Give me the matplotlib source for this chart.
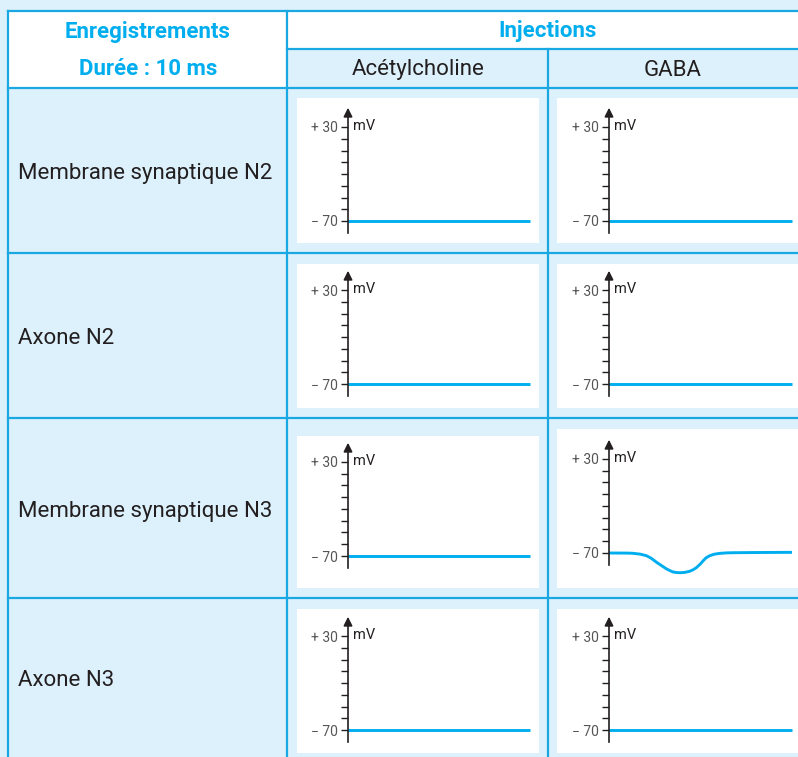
import matplotlib.pyplot as plt
from matplotlib.patches import Rectangle

# ---- data ----
ligne_titres = ["Membrane synaptique N2", "Axone N2", "Membrane synaptique N3", "Axone N3"]
col_titres = ["Acétylcholine", "GABA"]

# time (ms) / potential (mV) for each recording
t_plat = [0, 10]
v_plat = [-70, -70]
t_gaba_n3 = [0, 1.0, 1.3, 1.7, 2.05, 2.3, 2.6, 2.9, 3.15, 3.3, 3.5, 3.7, 3.9, 4.15, 4.4,
             4.6, 4.8, 5.0, 5.15, 5.3, 5.5, 5.75, 6.05, 6.4, 6.8, 8.0, 10]
v_gaba_n3 = [-70, -70.1, -70.3, -71.2, -72.9, -75.5, -79.9, -83.8, -87, -88.5, -90.2, -90.8,
             -91, -90.6, -89.5, -87.8, -85.2, -81.5, -78.2, -75.2, -72.9, -71.3, -70.4,
             -69.9, -69.7, -69.5, -69.3]

enregistrements = [
    [(t_plat, v_plat), (t_plat, v_plat)],
    [(t_plat, v_plat), (t_plat, v_plat)],
    [(t_plat, v_plat), (t_gaba_n3, v_gaba_n3)],
    [(t_plat, v_plat), (t_plat, v_plat)],
]

# ---- style ----
W, H = 798, 757
bleu_fond = "#dcf1fb"
bleu = "#00aeef"
bleu_trait = "#1aa8e2"
noir = "#231f20"
gris = "#555555"
plt.rcParams['font.family'] = ['Roboto', 'DejaVu Sans']

fig = plt.figure(figsize=(W / 100, H / 100), dpi=100)
fig.patch.set_facecolor(bleu_fond)

tab = fig.add_axes([0, 0, 1, 1])
tab.set_xlim(0, W)
tab.set_ylim(H, 0)
tab.axis("off")

# table geometry (pixels)
x_cols = [8, 287, 548, 900]
y_rows = [88, 253, 418, 598, 800]

tab.add_patch(Rectangle((8, 11), 279, 77, facecolor="white", edgecolor="none"))
tab.add_patch(Rectangle((287, 11), 600, 38, facecolor="white", edgecolor="none"))

lw = 1.6
tab.plot([8, 900], [11, 11], color=bleu_trait, lw=lw)
tab.plot([287, 900], [49, 49], color=bleu_trait, lw=lw)
for y in y_rows[:-1]:
    tab.plot([8, 900], [y, y], color=bleu_trait, lw=lw)
tab.plot([8, 8], [11, 800], color=bleu_trait, lw=lw)
tab.plot([287, 287], [11, 800], color=bleu_trait, lw=lw)
tab.plot([548, 548], [49, 800], color=bleu_trait, lw=lw)

fs = 16
tab.text(148, 32, "Enregistrements", color=bleu, fontsize=fs, fontweight="bold", ha="center", va="center")
tab.text(148, 69, "Durée : 10 ms", color=bleu, fontsize=fs, fontweight="bold", ha="center", va="center")
tab.text(548, 31, "Injections", color=bleu, fontsize=fs, fontweight="bold", ha="center", va="center")
tab.text(418, 70, col_titres[0], color=noir, fontsize=fs, ha="center", va="center")
tab.text(673, 70, col_titres[1], color=noir, fontsize=fs, ha="center", va="center")

for i, nom in enumerate(ligne_titres):
    yc = (y_rows[i] + min(y_rows[i + 1], H)) / 2
    tab.text(18, yc + 3, nom, color=noir, fontsize=fs, ha="left", va="center")

# panel boxes: (left, top, right, bottom), axis x, line end x, y of +30, y of -70
boites = [
    [(297, 98, 539, 243, 348, 530, 127, 221), (557, 98, 798, 243, 609, 792, 127, 221)],
    [(297, 264, 539, 408, 348, 530, 290, 384), (557, 264, 798, 408, 609, 792, 290, 384)],
    [(297, 436, 539, 588, 348, 530, 462, 556), (557, 429, 798, 588, 609, 792, 459, 553)],
    [(297, 609, 539, 753, 348, 530, 636, 730), (557, 609, 798, 753, 609, 792, 636, 730)],
]

for i in range(4):
    for j in range(2):
        l, t, r, b, xa, xe, y30, y70 = boites[i][j]
        ax = fig.add_axes([l / W, 1 - b / H, (r - l) / W, (b - t) / H])
        ax.set_facecolor("white")
        s = (y70 - y30) / 100.0
        k = (xe - xa) / 10.0
        ax.set_xlim(-(xa - l) / k, 10 + (r - xe) / k)
        ax.set_ylim(-70 - (b - y70) / s, 30 + (y30 - t) / s)
        for sp in ["top", "right", "bottom"]:
            ax.spines[sp].set_visible(False)
        ax.spines["left"].set_position(("data", 0))
        ax.spines["left"].set_bounds(-70 - 12 / s, 30 + 10 / s)
        ax.spines["left"].set_linewidth(1.2)
        ax.spines["left"].set_color(noir)
        ax.annotate("", xy=(0, 30 + 22 / s), xytext=(0, 30 + 8 / s),
                    arrowprops=dict(arrowstyle="-|>", color=noir, lw=1.2, mutation_scale=13))
        ax.set_xticks([])
        ax.set_yticks([-70 + 12.5 * n for n in range(9)])
        ax.set_yticklabels(["\u2212 70"] + [""] * 7 + ["+ 30"])
        ax.tick_params(axis="y", direction="out", length=5, width=1.0, color=noir,
                       labelsize=10, labelcolor=gris, pad=2)
        ax.text(0.3, 31, "mV", color=noir, fontsize=10.5, ha="left", va="center")
        tt, vv = enregistrements[i][j]
        ax.plot(tt, vv, color=bleu, lw=2.1, solid_capstyle="butt", solid_joinstyle="round", clip_on=False)

fig.savefig("out.png", dpi=100, facecolor=fig.get_facecolor())
